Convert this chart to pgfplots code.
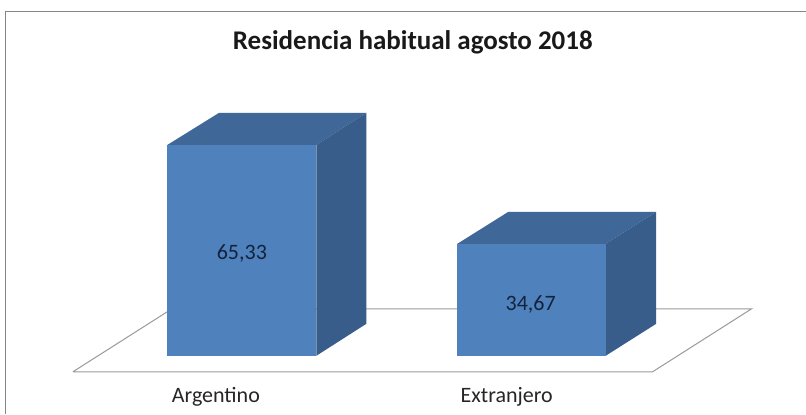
\documentclass[border=0pt]{standalone}
\usepackage{fontspec}
\setmainfont{Carlito}
\usepackage{pgfplots}
\pgfplotsset{compat=1.18}
\definecolor{frontb}{HTML}{4F81BD}
\definecolor{topb}{HTML}{3F6797}
\definecolor{sideb}{HTML}{385D8A}
\definecolor{framec}{HTML}{868686}
\definecolor{floorc}{HTML}{9A9A9A}
\definecolor{valc}{HTML}{14233C}
\begin{document}
\begin{tikzpicture}[x=1pt,y=1pt]
\begin{axis}[scale only axis,width=806pt,height=414pt,
 xmin=0,xmax=806,ymin=-17.96,ymax=110.22,
 axis lines=none,clip=false,
 every axis plot/.append style={forget plot}]
\path[fill=white] (axis cs:0,-17.96) rectangle (axis cs:806,110.22);
% frame and floor
\addplot[framec,line width=0.9pt] coordinates {(5,-17.96)(5,106.8)(806,106.8)};
\addplot[floorc,line width=1pt] coordinates {(73,-4.95)(653,-4.95)(752,14.55)(172,14.55)(73,-4.95)};
% Argentino 65.33
\addplot[fill=topb,draw=none] coordinates {(167.5,65.33)(316.5,65.33)(366.5,75.23)(219,75.23)} -- cycle;
\addplot[fill=sideb,draw=none] coordinates {(316.5,0)(366.5,9.9)(366.5,75.23)(316.5,65.33)} -- cycle;
\addplot[fill=frontb,draw=none] coordinates {(167.5,0)(316.5,0)(316.5,65.33)(167.5,65.33)} -- cycle;
% Extranjero 34.67
\addplot[fill=topb,draw=none] coordinates {(457.5,34.67)(606,34.67)(656.5,44.57)(508.5,44.57)} -- cycle;
\addplot[fill=sideb,draw=none] coordinates {(606,0)(656.5,9.9)(656.5,44.57)(606,34.67)} -- cycle;
\addplot[fill=frontb,draw=none] coordinates {(457.5,0)(606,0)(606,34.67)(457.5,34.67)} -- cycle;
% texts
\node[font=\fontsize{27}{28}\selectfont\bfseries,text=black!90] at (axis cs:413,97.2) {Residencia habitual agosto 2018};
\node[font=\fontsize{22}{24}\selectfont,text=valc] at (axis cs:242,31.8) {65,33};
\node[font=\fontsize{22}{24}\selectfont,text=valc] at (axis cs:531,15.8) {34,67};
\node[font=\fontsize{22}{24}\selectfont,text=black!85] at (axis cs:216,-12.8) {Argentino};
\node[font=\fontsize{22}{24}\selectfont,text=black!85] at (axis cs:507,-12.8) {Extranjero};
\end{axis}
\end{tikzpicture}
\end{document}
